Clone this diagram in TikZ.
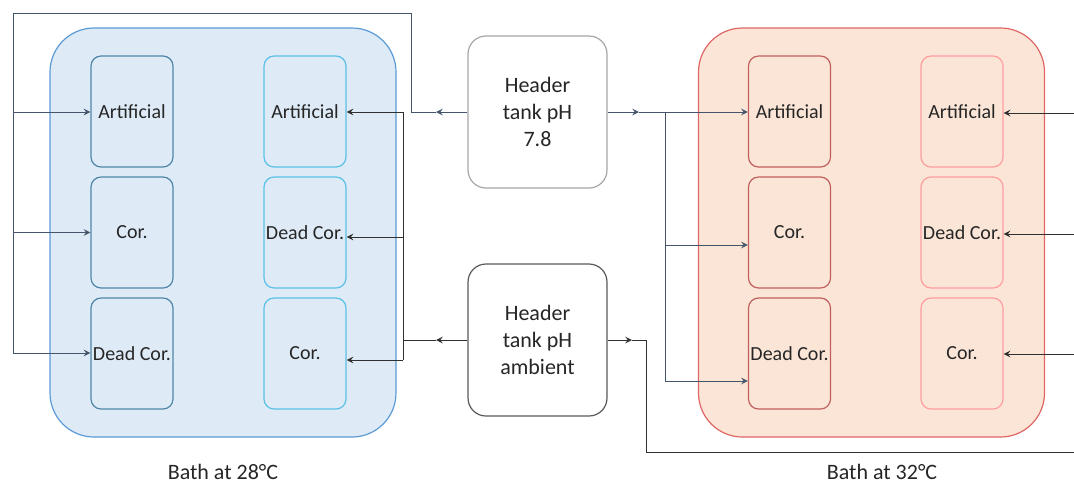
\documentclass[tikz,border=0pt]{standalone}
\usepackage{fontspec}
\setmainfont{Carlito}
\usetikzlibrary{calc, positioning, arrows}
\definecolor{coolfill}{HTML}{DEEBF7}
\definecolor{coolline}{HTML}{5B9BD5}
\definecolor{coolA}{HTML}{4F86A6}
\definecolor{coolB}{HTML}{5BC0E6}
\definecolor{warmfill}{HTML}{FBE5D6}
\definecolor{warmline}{HTML}{E06666}
\definecolor{warmA}{HTML}{C0605E}
\definecolor{warmB}{HTML}{FF9E9E}
\definecolor{pipeslate}{HTML}{44546A}
\definecolor{pipedark}{HTML}{303030}
\tikzstyle{bath}=[draw, rounded corners=22pt, minimum width=173pt, minimum height=204.5pt, line width=0.6pt]
\tikzstyle{tank}=[draw, rounded corners=5pt, minimum width=41pt, minimum height=55.5pt, inner sep=0pt, line width=0.6pt]
\tikzstyle{hdr}=[draw, rounded corners=9pt, minimum width=69.5pt, minimum height=76pt, align=center, line width=0.6pt, fill=white, font=\fontsize{11}{13.5}\selectfont]
\tikzstyle{pipe}=[line width=0.5pt]
\tikzset{>=stealth}
\begin{document}
\begin{tikzpicture}[x=0.5pt, y=-0.5pt, text=black!85]
\useasboundingbox (0,0) rectangle (1074,484);
% the two baths
\node[bath, fill=coolfill, draw=coolline] (LB) at (223,232.5) {};
\node[bath, fill=warmfill, draw=warmline] (RB) at (871.5,232.5) {};
\node[font=\fontsize{11}{13}\selectfont] (LBlab) at (223,472) {Bath at 28°C};
\node[font=\fontsize{11}{13}\selectfont] (RBlab) at (882,472) {Bath at 32°C};
% the tanks in the bath at 28
\node[tank, draw=coolA] (L11) at (132,111.5) {Artificial};
\node[tank, draw=coolA] (L12) at (132,232.5) {Cor.};
\node[tank, draw=coolA] (L13) at (132,353.5) {Dead Cor.};
\node[tank, draw=coolB] (L21) at (305,111.5) {Artificial};
\node[tank, draw=coolB] (L22) at (305,232.5) {Dead Cor.};
\node[tank, draw=coolB] (L23) at (305,353.5) {Cor.};
% the tanks in the bath at 32
\node[tank, draw=warmA] (R11) at (789.5,111.5) {Artificial};
\node[tank, draw=warmA] (R12) at (789.5,232.5) {Cor.};
\node[tank, draw=warmA] (R13) at (789.5,353.5) {Dead Cor.};
\node[tank, draw=warmB] (R21) at (962,111.5) {Artificial};
\node[tank, draw=warmB] (R22) at (962,232.5) {Dead Cor.};
\node[tank, draw=warmB] (R23) at (962,353.5) {Cor.};
% the header tanks
\node[hdr, draw=black!35] (H78) at (537.5,112) {Header\\tank pH\\7.8};
\node[hdr, draw=black!65] (HAmb) at (537.5,340) {Header\\tank pH\\ambient};
% the pipe points
\coordinate (a1) at (436,112);
\coordinate (a2) at (639,112);
\coordinate (a3) at (436,340);
\coordinate (a4) at (632,340);
\coordinate (j1) at (411,112);
\coordinate (j2) at (13,13);
\coordinate (j3) at (13,353);
\coordinate (j4) at (665,112);
\coordinate (j4b) at (665,245);
\coordinate (j5) at (665,381);
\coordinate (j6) at (403,112);
\coordinate (j6b) at (403,237);
\coordinate (j7) at (403,360);
\coordinate (j8) at (646,452);
\coordinate (j9) at (1074,452);
\coordinate (e1) at (1074,113);
\coordinate (e2) at (1074,234);
\coordinate (e3) at (1074,354);
% the pipes from pH 7.8
\draw[pipe, pipeslate, ->] (H78.west) -- (a1);
\draw[pipe, pipeslate] (a1) -- (j1) |- (j2) -- (j3);
\draw[pipe, pipeslate, ->] (j1 -| j2) -- (j1 -| L11.west);
\draw[pipe, pipeslate, ->] (j2 |- L12.west) -- (L12.west);
\draw[pipe, pipeslate, ->] (j3) -- (j3 -| L13.west);
\draw[pipe, pipeslate, ->] (H78.east) -- (a2);
\draw[pipe, pipeslate] (a2) -- (j4) -- (j5);
\draw[pipe, pipeslate, ->] (j4) -- (j4 -| R11.west);
\draw[pipe, pipeslate, ->] (j4b) -- (j4b -| R12.west);
\draw[pipe, pipeslate, ->] (j5) -- (j5 -| R13.west);
% the pipes from pH ambient
\draw[pipe, pipedark, ->] (HAmb.west) -- (a3);
\draw[pipe, pipedark] (a3) -- (a3 -| j6);
\draw[pipe, pipedark] (j6) -- (j7);
\draw[pipe, pipedark, ->] (j6) -- (j6 -| L21.east);
\draw[pipe, pipedark, ->] (j6b) -- (j6b -| L22.east);
\draw[pipe, pipedark, ->] (j7) -- (j7 -| L23.east);
\draw[pipe, pipedark, ->] (HAmb.east) -- (a4);
\draw[pipe, pipedark] (a4) -- (a4 -| j8) -- (j8) -- (j9);
\draw[pipe, pipedark, ->] (e1) -- (e1 -| R21.east);
\draw[pipe, pipedark, ->] (e2) -- (e2 -| R22.east);
\draw[pipe, pipedark, ->] (e3) -- (e3 -| R23.east);
\end{tikzpicture}
\end{document}
